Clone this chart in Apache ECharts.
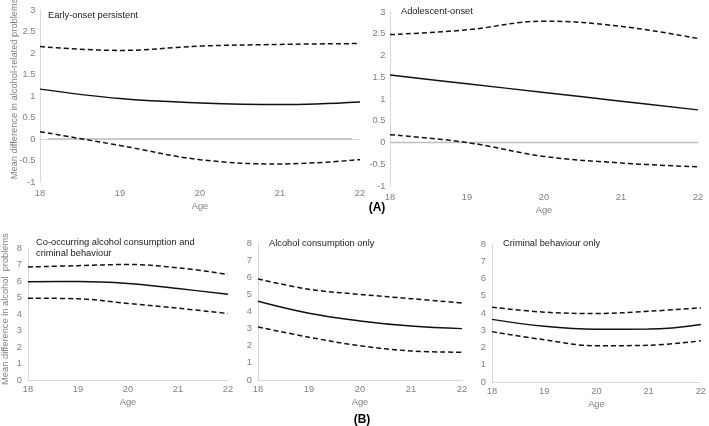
<!DOCTYPE html>
<html><head><meta charset="utf-8">
<script src="https://cdn.jsdelivr.net/npm/echarts@6/dist/echarts.min.js"></script>
<style>html,body{margin:0;padding:0;background:#fff}#c{width:709px;height:426px}</style>
</head><body><div id="c"></div>
<script>
const ages = [18, 19, 20, 21, 22];
const xTicks = ['18', '19', '20', '21', '22'];
// (A) Early-onset persistent
const eopEst = [1.16, 0.94, 0.84, 0.80, 0.86];
const eopUp  = [2.15, 2.06, 2.16, 2.20, 2.22];
const eopLo  = [0.17, -0.15, -0.48, -0.58, -0.48];
// (A) Adolescent-onset
const aoEst = [1.55, 1.35, 1.15, 0.95, 0.75];
const aoUp  = [2.48, 2.59, 2.79, 2.67, 2.39];
const aoLo  = [0.18, 0.00, -0.32, -0.47, -0.56];
// (B) Co-occurring
const coEst = [5.95, 5.97, 5.85, 5.54, 5.20];
const coUp  = [6.85, 6.93, 7.00, 6.80, 6.40];
const coLo  = [4.96, 4.92, 4.64, 4.35, 4.03];
// (B) Alcohol consumption only
const acEst = [4.60, 3.90, 3.45, 3.15, 3.00];
const acUp  = [5.90, 5.30, 5.00, 4.75, 4.50];
const acLo  = [3.10, 2.50, 2.00, 1.70, 1.62];
// (B) Criminal behaviour only
const cbEst = [3.63, 3.23, 3.06, 3.07, 3.34];
const cbUp  = [4.34, 4.05, 3.97, 4.10, 4.30];
const cbLo  = [2.92, 2.45, 2.10, 2.13, 2.39];
// zero reference lines
const zeroLeft = [[18.1, 0], [21.9, 0]];
const zeroRight = [[18, 0], [22, 0]];

const panelTitles = ['Early-onset persistent', 'Adolescent-onset',
  'Co-occurring alcohol consumption and\ncriminal behaviour', 'Alcohol consumption only', 'Criminal behaviour only'];

const FONT = 'Liberation Sans, Arial, sans-serif';
const GREY = '#808080';
const AX = '#d9d9d9';
const FS = 9.3;

const grids = [
  {left: 40, top: 10, width: 320, height: 172},
  {left: 390, top: 12, width: 308, height: 174},
  {left: 28, top: 248, width: 200, height: 132},
  {left: 258, top: 243, width: 204, height: 137},
  {left: 492, top: 244, width: 211, height: 138}
];
const yRanges = [[-1, 3, 0.5], [-1, 3, 0.5], [0, 8, 1], [0, 8, 1], [0, 8, 1]];

const pair = arr => ages.map((a, i) => [a, arr[i]]);

const xAxes = grids.map((g, i) => ({
  gridIndex: i, type: 'value', min: 18, max: 22, interval: 1,
  name: 'Age', nameLocation: 'middle', nameGap: i < 2 ? 19.5 : 17.5,
  nameTextStyle: {color: GREY, fontFamily: FONT, fontSize: FS},
  axisLine: {show: true, lineStyle: {color: AX, width: 1}},
  axisTick: {show: false}, splitLine: {show: false},
  axisLabel: {color: GREY, fontFamily: FONT, fontSize: FS, margin: i < 2 ? 6.5 : 5,
    formatter: v => xTicks[ages.indexOf(v)] || ''}
}));
const yAxes = grids.map((g, i) => ({
  gridIndex: i, type: 'value', min: yRanges[i][0], max: yRanges[i][1], interval: yRanges[i][2],
  axisLine: {show: true, lineStyle: {color: AX, width: 1}},
  axisTick: {show: false}, splitLine: {show: false},
  axisLabel: {color: GREY, fontFamily: FONT, fontSize: FS, margin: i < 2 ? 4.5 : 6}
}));

const series = [];
const sets = [[eopEst, eopUp, eopLo], [aoEst, aoUp, aoLo], [coEst, coUp, coLo], [acEst, acUp, acLo], [cbEst, cbUp, cbLo]];
sets.forEach((s, i) => {
  if (i < 2) {
    series.push({type: 'line', xAxisIndex: i, yAxisIndex: i, data: i === 0 ? zeroLeft : zeroRight,
      symbol: 'none', lineStyle: {color: '#bfbfbf', width: 1.5}, silent: true, z: 1});
  }
  series.push({type: 'line', xAxisIndex: i, yAxisIndex: i, data: pair(s[0]), smooth: 0.4,
    symbol: 'none', lineStyle: {color: '#111', width: 1.5}});
  [s[1], s[2]].forEach(d => series.push({type: 'line', xAxisIndex: i, yAxisIndex: i, data: pair(d), smooth: 0.4,
    symbol: 'none', lineStyle: {color: '#111', width: 1.5, type: [5, 3]}}));
});

const txt = (x, y, text, opt) => Object.assign({type: 'text', x, y,
  style: Object.assign({text, fill: '#1a1a1a', font: FS + 'px ' + FONT, verticalAlign: 'middle'}, opt || {})});

const graphic = [
  txt(48, 15, panelTitles[0]),
  txt(401, 11, panelTitles[1]),
  txt(36, 237.5, panelTitles[2], {verticalAlign: 'top', lineHeight: 10.7}),
  txt(269, 243, panelTitles[3]),
  txt(503, 243, panelTitles[4]),
  {type: 'text', x: 14, y: 89, rotation: Math.PI / 2,
    style: {text: 'Mean difference in alcohol-related problems', fill: GREY, font: FS + 'px ' + FONT, align: 'center', verticalAlign: 'middle'}},
  {type: 'text', x: 5, y: 309, rotation: Math.PI / 2,
    style: {text: 'Mean difference in alcohol  problems', fill: GREY, font: FS + 'px ' + FONT, align: 'center', verticalAlign: 'middle'}},
  {type: 'text', x: 377, y: 208, style: {text: '(A)', fill: '#000', font: 'bold 12px ' + FONT, align: 'center', verticalAlign: 'middle'}},
  {type: 'text', x: 362, y: 420, style: {text: '(B)', fill: '#000', font: 'bold 12px ' + FONT, align: 'center', verticalAlign: 'middle'}}
];

const chart = echarts.init(document.getElementById('c'), null, {renderer: 'canvas'});
chart.setOption({
  animation: false, backgroundColor: '#fff',
  grid: grids, xAxis: xAxes, yAxis: yAxes, series, graphic
});
</script></body></html>
